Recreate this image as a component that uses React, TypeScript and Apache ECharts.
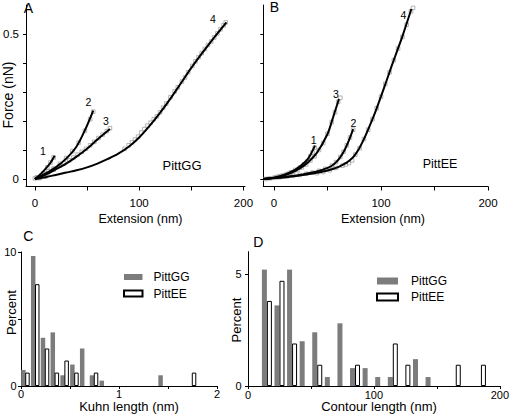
import React, { useEffect, useRef } from "react";
import * as echarts from "echarts";

const FONT = "'Liberation Sans', Arial, Helvetica, sans-serif";
const NARROW = "'Liberation Sans Narrow', 'Arial Narrow', 'Liberation Sans', Arial, sans-serif";

// ---- Panel A: PittGG force–extension (x: nm, y: nN) ----
const ggFit1 = [[0, 0], [5, 0.015], [10, 0.034], [15, 0.056], [19, 0.08]];
const ggFit2 = [[0, 0], [10, 0.018], [20, 0.04], [30, 0.07], [40, 0.112], [48, 0.168], [56, 0.236]];
const ggFit3 = [[0, 0], [10, 0.014], [20, 0.033], [30, 0.053], [40, 0.077], [50, 0.104], [60, 0.136], [72, 0.172]];
const ggFit4 = [[0, 0], [10, 0.006], [20, 0.014], [30, 0.022], [40, 0.03], [50, 0.04], [60, 0.053], [70, 0.069], [80, 0.087], [90, 0.111], [100, 0.143], [110, 0.183], [120, 0.228], [130, 0.277], [140, 0.33], [150, 0.383], [160, 0.432], [170, 0.479], [183.7, 0.54]];

const ggData1 = [[0, 0.002], [2, 0.006], [4, 0.003], [6, 0.012], [8, 0.02], [10, 0.008], [12, 0.04], [15, 0.057], [18, 0.074]];
const ggData2 = [[3, 0.005], [8, 0.015], [13, 0.026], [18, 0.036], [24, 0.052], [30, 0.072], [36, 0.096], [42, 0.125], [48, 0.166], [53, 0.206], [56, 0.232]];
const ggData3 = [[5, 0.004], [12, 0.018], [18, 0.032], [24, 0.046], [28, 0.054], [33, 0.064], [37, 0.074], [41, 0.084], [45, 0.094], [49, 0.104], [53, 0.116], [57, 0.128], [61, 0.141], [65, 0.153], [69, 0.165], [72, 0.175]];
const ggData4 = [[86, 0.104], [90, 0.116], [93, 0.126], [96, 0.136], [99, 0.146], [102, 0.16], [105, 0.172], [108, 0.184], [111, 0.194], [114, 0.206], [117, 0.216], [120, 0.23], [123, 0.246], [126, 0.26], [130, 0.282], [134, 0.302], [137, 0.316], [141, 0.336], [144, 0.35], [147, 0.368], [151, 0.39], [154, 0.406], [157, 0.42], [160, 0.434], [163, 0.448], [166, 0.462], [169, 0.474], [172, 0.488], [175, 0.502], [178, 0.516], [181, 0.53], [183, 0.54]];

// ---- Panel B: PittEE force–extension ----
const eeFit1 = [[-10, 0], [0, 0.004], [10, 0.015], [20, 0.032], [30, 0.062], [34, 0.083], [38.3, 0.115]];
const eeFit2 = [[-10, 0], [0, 0.003], [10, 0.006], [20, 0.011], [30, 0.018], [40, 0.026], [50, 0.038], [56, 0.051], [61, 0.07], [66, 0.1], [70, 0.133], [74, 0.172]];
const eeFit3 = [[-10, 0], [0, 0.004], [10, 0.013], [20, 0.028], [30, 0.052], [40, 0.09], [50, 0.155], [55, 0.21], [60.7, 0.276]];
const eeFit4 = [[-10, 0], [0, 0.003], [10, 0.006], [20, 0.01], [30, 0.015], [40, 0.021], [50, 0.029], [60, 0.041], [65, 0.05], [70, 0.062], [75, 0.08], [80, 0.108], [85, 0.145], [90, 0.188], [95, 0.234], [100, 0.285], [105, 0.337], [110, 0.39], [115, 0.441], [120, 0.492], [128.4, 0.586]];

const eeData1 = [[-8, 0], [-4, 0.002], [0, 0.004], [4, 0.008], [8, 0.012], [12, 0.017], [16, 0.023], [20, 0.031], [24, 0.039], [28, 0.05], [31, 0.06], [34, 0.078], [36, 0.092], [38, 0.108]];
const eeData2 = [[5, 0.006], [12, 0.008], [18, 0.011], [24, 0.014], [30, 0.018], [36, 0.022], [42, 0.028], [48, 0.035], [54, 0.046], [58, 0.058], [62, 0.076], [65, 0.094], [68, 0.116], [71, 0.143], [74, 0.17]];
const eeData3 = [[2, 0.006], [6, 0.009], [10, 0.013], [14, 0.018], [18, 0.024], [22, 0.031], [26, 0.04], [30, 0.05], [34, 0.064], [38, 0.078], [42, 0.1], [46, 0.124], [50, 0.156], [54, 0.196], [57, 0.23], [60, 0.266], [62, 0.28]];
const eeData4 = [[40, 0.02], [46, 0.024], [52, 0.03], [58, 0.038], [64, 0.046], [67, 0.05], [70, 0.055], [73, 0.064], [76, 0.084], [80, 0.106], [84, 0.138], [88, 0.17], [92, 0.206], [96, 0.244], [100, 0.284], [104, 0.328], [108, 0.368], [112, 0.41], [116, 0.45], [120, 0.49], [124, 0.532], [128, 0.578], [130, 0.59]];

// ---- Panel C: Kuhn length histogram (bin start nm, percent) ----
const kuhnGG = [[0, 1.2], [0.1, 9.7], [0.2, 3.6], [0.3, 4.0], [0.4, 0.8], [0.5, 1.6], [0.6, 2.8], [0.7, 0.8], [0.8, 0.4], [1.4, 0.8]];
const kuhnEE = [[0, 1.0], [0.1, 7.6], [0.2, 2.8], [0.3, 1.0], [0.4, 1.9], [0.5, 1.0], [0.7, 1.0], [1.7, 1.0]];

// ---- Panel D: Contour length histogram (bin start nm, percent) ----
const contourGG = [[10, 5.2], [20, 3.6], [30, 5.2], [40, 2.0], [50, 2.4], [60, 0.4], [70, 2.8], [80, 0.8], [90, 0.8], [100, 0.4], [110, 0.4], [130, 1.2], [140, 0.4]];
const contourEE = [[10, 3.8], [20, 4.7], [30, 1.9], [50, 0.95], [80, 0.95], [110, 1.9], [120, 0.95], [160, 0.95], [180, 0.95]];

const forceTicks = [0, 0.1, 0.2, 0.3, 0.4, 0.5];
const forceLabels = [0, 0.5];
const extTicks = [0, 50, 100, 150, 200];
const extLabels = [0, 100, 200];
const kuhnTicks = [0, 0.5, 1, 1.5, 2];
const kuhnLabels = [0, 1, 2];
const pctTicksC = [0, 5, 10];
const pctLabelsC = [0, 10];
const contourTicks = [0, 50, 100, 150, 200];
const contourLabels = [0, 100, 200];
const pctTicksD = [0, 5];

const GRAY = "#7c7c7c";

function axis(grid: number, min: number, max: number, ticks: number[], labels: number[] | null, labelMargin: number, tickLen: number, fontSize = 11.5) {
  return {
    type: "value",
    gridIndex: grid,
    min,
    max,
    axisLine: { show: true, onZero: false, lineStyle: { color: "#000", width: 1 } },
    splitLine: { show: false },
    axisTick: { show: true, length: tickLen, customValues: ticks, lineStyle: { color: "#000", width: 1 } },
    axisLabel: labels
      ? { show: true, customValues: labels, fontFamily: NARROW, fontSize, color: "#000", margin: labelMargin }
      : { show: false },
  };
}

function fit(data: number[][], idx: number) {
  return {
    type: "line",
    xAxisIndex: idx,
    yAxisIndex: idx,
    data,
    smooth: 0.3,
    symbol: "none",
    lineStyle: { color: "#000", width: 2 },
    z: 3,
    silent: true,
  };
}

function pts(data: number[][], idx: number) {
  return {
    type: "scatter",
    xAxisIndex: idx,
    yAxisIndex: idx,
    data,
    symbol: "rect",
    symbolSize: 3.6,
    itemStyle: { color: "rgba(0,0,0,0)", borderColor: "#999999", borderWidth: 0.9 },
    z: 2,
    silent: true,
  };
}

function txt(text: string, x: number, y: number, size: number, family = FONT, rotate = false) {
  return {
    type: "text",
    x,
    y,
    rotation: rotate ? Math.PI / 2 : 0,
    style: { text, font: `${size}px ${family}`, fill: "#000", align: "center", verticalAlign: "middle" },
    silent: true,
  };
}

export default function App() {
  const ref = useRef<HTMLDivElement>(null);
  useEffect(() => {
    if (!ref.current) return;
    const chart = echarts.init(ref.current, null, { renderer: "svg" });
    const legendBase = {
      orient: "vertical",
      data: ["PittGG", "PittEE"],
      icon: "rect",
      selectedMode: false,
      padding: 0,
    };
    chart.setOption({
      animation: false,
      backgroundColor: "#fff",
      grid: [
        { left: 21, top: 5, width: 224, height: 181.5 },
        { left: 263.3, top: 5, width: 224.7, height: 181.5 },
        { left: 21, top: 252, width: 196, height: 134 },
        { left: 248, top: 251.7, width: 256, height: 134.3 },
      ],
      xAxis: [
        axis(0, -8.5, 201.5, extTicks, extLabels, 10, 4),
        axis(1, -10, 200, extTicks, extLabels, 10, 4),
        axis(2, 0, 2, kuhnTicks, kuhnLabels, 2, 3, 11),
        axis(3, 0, 200, contourTicks, contourLabels, 3, 3, 11),
      ],
      yAxis: [
        axis(0, -0.026, 0.6, forceTicks, forceLabels, 7, 3),
        axis(1, -0.026, 0.6, forceTicks, null, 7, 3),
        axis(2, 0, 10, pctTicksC, pctLabelsC, 4.5, 3, 11),
        axis(3, 0, 6, pctTicksD, pctTicksD, 6.5, 3, 11),
      ],
      legend: [
        {
          ...legendBase,
          left: 123,
          top: 271,
          itemWidth: 18.5,
          itemHeight: 6,
          itemGap: 4.5,
          textStyle: { fontFamily: FONT, fontSize: 12, color: "#000", lineHeight: 12, padding: [0, 0, 0, 6] },
        },
        {
          ...legendBase,
          left: 376,
          top: 275,
          itemWidth: 21,
          itemHeight: 7,
          itemGap: 4,
          textStyle: { fontFamily: FONT, fontSize: 12, color: "#000", lineHeight: 12, padding: [0, 0, 0, 8] },
        },
      ],
      series: [
        pts(ggData1, 0), pts(ggData2, 0), pts(ggData3, 0), pts(ggData4, 0),
        fit(ggFit1, 0), fit(ggFit2, 0), fit(ggFit3, 0), fit(ggFit4, 0),
        pts(eeData1, 1), pts(eeData2, 1), pts(eeData3, 1), pts(eeData4, 1),
        fit(eeFit1, 1), fit(eeFit2, 1), fit(eeFit3, 1), fit(eeFit4, 1),
        {
          type: "bar", name: "PittGG", xAxisIndex: 2, yAxisIndex: 2,
          data: kuhnGG.map(([b, v]) => [b + 0.045, v]),
          barWidth: 4.5, barGap: "-10%",
          itemStyle: { color: GRAY },
        },
        {
          type: "bar", name: "PittEE", xAxisIndex: 2, yAxisIndex: 2,
          data: kuhnEE.map(([b, v]) => [b + 0.045, v]),
          barWidth: 4.5, barGap: "-10%",
          itemStyle: { color: "#fff", borderColor: "#000", borderWidth: 1 },
        },
        {
          type: "bar", name: "PittGG", xAxisIndex: 3, yAxisIndex: 3,
          data: contourGG.map(([b, v]) => [b + 5, v]),
          barWidth: 5, barGap: "0%",
          itemStyle: { color: GRAY },
        },
        {
          type: "bar", name: "PittEE", xAxisIndex: 3, yAxisIndex: 3,
          data: contourEE.map(([b, v]) => [b + 5, v]),
          barWidth: 5, barGap: "0%",
          itemStyle: { color: "#fff", borderColor: "#000", borderWidth: 1 },
        },
      ],
      graphic: [
        txt("A", 28.3, 7.5, 14),
        txt("B", 274.3, 6.7, 14),
        txt("C", 28.3, 236.3, 14),
        txt("D", 258.3, 241.7, 14),
        txt("Force (nN)", 7.5, 95, 14, FONT, true),
        txt("Extension (nm)", 140.5, 218.5, 12.5),
        txt("Extension (nm)", 383, 218.5, 12.5),
        txt("Percent", 11, 312.5, 13, FONT, true),
        txt("Percent", 236.7, 320, 13, FONT, true),
        txt("Kuhn length (nm)", 129, 406.5, 13),
        txt("Contour length (nm)", 379, 406.5, 13),
        txt("PittGG", 182, 165, 13, NARROW),
        txt("PittEE", 440, 163.5, 12.5),
        txt("1", 43, 151, 10.5, NARROW),
        txt("2", 88.5, 101.5, 10.5, NARROW),
        txt("3", 106, 121, 10.5, NARROW),
        txt("4", 213, 18.5, 10.5, NARROW),
        txt("1", 313.7, 140, 10.5, NARROW),
        txt("2", 353.5, 122.5, 10.5, NARROW),
        txt("3", 336, 94, 10.5, NARROW),
        txt("4", 403.3, 15, 10.5, NARROW),
      ],
    });
    return () => chart.dispose();
  }, []);
  return (
    <div
      ref={ref}
      style={{ position: "absolute", left: 0, top: 0, width: 512, height: 416, background: "#fff" }}
    />
  );
}
